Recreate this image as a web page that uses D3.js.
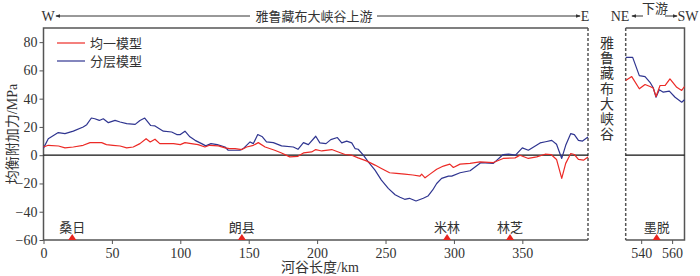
<!DOCTYPE html>
<html>
<head>
<meta charset="utf-8">
<script src="https://cdn.jsdelivr.net/npm/d3@7"></script>
<style>
  body { margin: 0; background: #fff; }
  svg text { font-family: "Liberation Serif", "Noto Sans CJK SC", serif; fill: #333; }
</style>
</head>
<body>
<svg id="chart" width="700" height="276"></svg>
<script>
// upstream section (0-398 km)
const redKm = [0, 3.5, 11, 15.7, 21.8, 29, 34, 42.5, 46, 50.8, 56, 60.8, 65.6, 70.5, 75, 78, 81.5, 85, 90, 95,
  100, 103.4, 108, 113, 118, 121.4, 127.8, 132.7, 136, 140, 145, 148.5, 153.4, 157, 162, 169, 174, 180, 186, 190,
  196, 199, 203.4, 210.7, 215.5, 220.4, 225.3, 230, 236, 242.3, 247, 253, 258, 264, 270, 275.2, 276.4, 278.9, 282.5, 287.4,
  292.3, 297, 299.6, 304.5, 311.8, 319, 328.8, 336, 344.7, 348.3, 354.4, 360.5, 366.6, 371, 375, 378.8, 381.7, 385.4, 388, 391,
  394.7, 398];
const redVal = [5.8, 7, 6.5, 5.2, 5.8, 7, 8.9, 8.9, 7.5, 7, 6.5, 5.2, 5.8, 8.2, 11.7, 9.4, 11.3, 8.2, 8.2, 8.2,
  7.5, 8.9, 8.2, 7.5, 5.8, 7, 6.6, 5.2, 4.7, 4.7, 4, 5.8, 7, 8.9, 5.8, 3.5, 1.6, -1.2, -0.8, 1.6,
  2.3, 4, 3, 4, 2.3, 0.5, 0, -1.9, -4, -7, -9.4, -12.4, -12.9, -13.4, -14, -14.8, -13.4, -16, -13.4, -10,
  -7.7, -6.3, -8.7, -6.3, -5.8, -4.7, -5.2, -2.3, -1.9, 0, -2.3, -1.2, 0.7, 0.5, -3, -16.4, -5.8, 1.2, 0.5, -3,
  -3.5, -1.2];

const blueKm = [0, 3.5, 10.8, 15.7, 21.8, 29, 31.6, 35, 37.5, 40.8, 43.7, 47.4, 52.3, 56, 60.8, 67, 70.5, 74, 78.4, 81.5,
  87.6, 93.7, 97.4, 100, 103.4, 107, 110.8, 115.6, 118.6, 122.4, 127, 132.7, 135, 143.6, 146, 151, 153.4, 156.6, 160, 163,
  168, 174, 182.6, 186, 190, 193.6, 199, 202, 206.5, 210, 214.8, 218, 221.6, 225.3, 227.7, 230, 233.8, 237.4, 242.3, 247,
  252, 257, 260.6, 264, 267.4, 272.3, 277.6, 281, 284.5, 287.4, 291, 296, 298.4, 304.5, 311.8, 319.8, 328.8, 336, 340, 345,
  350, 354.4, 363, 367, 371.5, 375, 378.8, 381.7, 385.4, 388, 391, 394, 398];
const blueVal = [5, 11.7, 16, 15.3, 17, 20, 21.6, 26.3, 25.8, 24.6, 25.8, 23, 24.6, 23.5, 22.3, 21.8, 24.6, 26.3, 21, 20.7,
  17, 16.4, 14.6, 14.6, 17, 13, 10.5, 8.2, 6.6, 8.2, 7.5, 5.8, 3.5, 3.5, 4.7, 9.4, 8.2, 14.6, 13, 9.4,
  8.9, 6.6, 5.8, 4.2, 8.9, 7.5, 13.4, 8.7, 8.2, 11, 12.5, 8.7, 10, 8.7, 4.7, 4.2, 0, -4.7, -10.6, -17.6,
  -23.5, -28, -29.8, -31.2, -30.5, -32.4, -30.5, -28.9, -24.6, -20, -16.4, -14.8, -14.8, -12.4, -11, -5.2, -5.8, 0.5, 0.8, 0,
  5.2, 3.5, 8.7, 9.5, 10.5, 7.7, -2.3, 7, 15.3, 14.6, 10.5, 10, 12.9];

// downstream section (530-568 km)
const redKmDown = [530, 533.9, 538.8, 542.5, 545.7, 547.8, 549.6, 552.2, 555.4, 558.6, 563, 566.2, 568];
const redValDown = [52.8, 55.6, 47, 50, 48.6, 47.5, 41.5, 49.3, 49.3, 54, 48, 45.8, 48.6];
const blueKmDown = [530, 534.5, 538.8, 542.5, 545.7, 547.8, 549.6, 551.7, 554.3, 558.2, 561.9, 566.2, 568];
const blueValDown = [69.2, 69.2, 56.3, 55.6, 51.6, 47.7, 41, 46.3, 44.6, 45.3, 41, 37.5, 39.2];

const towns = ["桑日", "朗县", "米林", "林芝"];
const townKm = [21, 145, 295, 341];
const townsDown = ["墨脱"];
const townKmDown = [550];

const xTicks = [0, 50, 100, 150, 200, 250, 300, 350];
const xTicksDown = [540, 560];
const yTicks = [-60, -40, -20, 0, 20, 40, 60, 80];
const seriesNames = ["均一模型", "分层模型"];

const RED = "#ec2a26", BLUE = "#2f3590", FRAME = "#555";
const plotTop = 28, plotBottom = 240;

const svg = d3.select("#chart");

const x = d3.scaleLinear().domain([0, 398]).range([43.5, 588]);
const x2 = d3.scaleLinear().domain([530, 568]).range([625.7, 684.5]);
const y = d3.scaleLinear().domain([-60, 90]).range([plotBottom, plotTop]);

// axes
const xAxis = svg.append("g").attr("transform", `translate(0,${plotBottom})`)
  .call(d3.axisBottom(x).tickValues(xTicks).tickSize(4).tickSizeOuter(0));
const xAxis2 = svg.append("g").attr("transform", `translate(0,${plotBottom})`)
  .call(d3.axisBottom(x2).tickValues(xTicksDown).tickSize(4).tickSizeOuter(0));
const yAxis = svg.append("g").attr("transform", `translate(${x.range()[0]},0)`)
  .call(d3.axisLeft(y).tickValues(yTicks).tickSize(4).tickSizeOuter(0));
[xAxis, xAxis2, yAxis].forEach(g => {
  g.select(".domain").remove();
  g.selectAll(".tick line").attr("stroke", FRAME);
  g.selectAll(".tick text").attr("font-size", 14).attr("fill", "#333");
});
xAxis.selectAll(".tick text").attr("dy", "0.8em");
xAxis2.selectAll(".tick text").attr("dy", "0.8em");
yAxis.selectAll(".tick text").attr("x", -6);

// frames
const frame = svg.append("g").attr("fill", "none").attr("stroke-width", 1.5);
frame.append("path").attr("stroke", FRAME)
  .attr("d", `M${x(398)},${plotTop}H${x(0)}V${plotBottom}H${x(398)}`);
frame.append("line").attr("stroke", FRAME).attr("stroke-dasharray", "3,2")
  .attr("x1", x(398)).attr("x2", x(398)).attr("y1", plotTop).attr("y2", plotBottom);
frame.append("path").attr("stroke", FRAME)
  .attr("d", `M${x2(530)},${plotTop}H${x2(568)}V${plotBottom}H${x2(530)}`);
frame.append("line").attr("stroke", FRAME).attr("stroke-dasharray", "3,2")
  .attr("x1", x2(530)).attr("x2", x2(530)).attr("y1", plotTop).attr("y2", plotBottom);

// zero lines
svg.append("line").attr("x1", x(0)).attr("x2", x(398)).attr("y1", y(0)).attr("y2", y(0))
  .attr("stroke", "#111").attr("stroke-width", 1.2);
svg.append("line").attr("x1", x2(530)).attr("x2", x2(568)).attr("y1", y(0)).attr("y2", y(0))
  .attr("stroke", "#111").attr("stroke-width", 1.2);

// curves
const drawLine = (xs, ks, vs, color) => {
  const pts = ks.map((k, i) => [xs(k), y(vs[i])]);
  svg.append("path").datum(pts)
    .attr("d", d3.line())
    .attr("fill", "none").attr("stroke", color).attr("stroke-width", 1.2)
    .attr("stroke-linejoin", "round");
};
drawLine(x, blueKm, blueVal, BLUE);
drawLine(x, redKm, redVal, RED);
drawLine(x2, blueKmDown, blueValDown, BLUE);
drawLine(x2, redKmDown, redValDown, RED);

// town markers
const drawTowns = (xs, names, kms) => {
  names.forEach((n, i) => {
    const cx = xs(kms[i]);
    svg.append("path").attr("d", `M${cx - 4},${plotBottom}L${cx},${plotBottom - 6}L${cx + 4},${plotBottom}Z`)
      .attr("fill", "#e8251f");
    svg.append("text").attr("x", cx).attr("y", plotBottom - 8).attr("text-anchor", "middle")
      .attr("font-size", 13).text(n);
  });
};
drawTowns(x, towns, townKm);
drawTowns(x2, townsDown, townKmDown);

// legend
[RED, BLUE].forEach((c, i) => {
  const ly = 43 + i * 18;
  svg.append("line").attr("x1", 57).attr("x2", 85).attr("y1", ly).attr("y2", ly)
    .attr("stroke", c).attr("stroke-width", 1.2);
  svg.append("text").attr("x", 90).attr("y", ly + 5).attr("font-size", 13).text(seriesNames[i]);
});

// axis titles
svg.append("text").attr("x", 320).attr("y", 272).attr("text-anchor", "middle")
  .attr("font-size", 14).text("河谷长度/km");
svg.append("text").attr("transform", "translate(17,134) rotate(-90)").attr("text-anchor", "middle")
  .attr("font-size", 14).text("均衡附加力/MPa");

// vertical canyon label
"雅鲁藏布大峡谷".split("").forEach((ch, i) => {
  svg.append("text").attr("x", 607).attr("y", 48 + i * 15.2).attr("text-anchor", "middle")
    .attr("font-size", 14).text(ch);
});

// header arrows
const defs = svg.append("defs");
defs.append("marker").attr("id", "ah").attr("viewBox", "0 0 6 6").attr("refX", 5).attr("refY", 3)
  .attr("markerWidth", 5).attr("markerHeight", 5).attr("orient", "auto-start-reverse")
  .append("path").attr("d", "M0,0.8L6,3L0,5.2Z").attr("fill", "#333");
const arrow = (x1, x2, yy, atStart) => {
  const l = svg.append("line").attr("x1", x1).attr("x2", x2).attr("y1", yy).attr("y2", yy)
    .attr("stroke", "#333").attr("stroke-width", 1);
  if (atStart) l.attr("marker-start", "url(#ah)"); else l.attr("marker-end", "url(#ah)");
};
svg.append("text").attr("x", 48).attr("y", 21).attr("text-anchor", "middle").attr("font-size", 14).text("W");
arrow(56, 250, 16, true);
svg.append("text").attr("x", 314).attr("y", 21).attr("text-anchor", "middle").attr("font-size", 13).text("雅鲁藏布大峡谷上游");
arrow(377, 580, 16, false);
svg.append("text").attr("x", 585).attr("y", 21).attr("text-anchor", "middle").attr("font-size", 14).text("E");

svg.append("text").attr("x", 620).attr("y", 21).attr("text-anchor", "middle").attr("font-size", 14).text("NE");
arrow(632, 643, 16, true);
svg.append("text").attr("x", 655).attr("y", 13).attr("text-anchor", "middle").attr("font-size", 13).text("下游");
arrow(665, 677, 16, false);
svg.append("text").attr("x", 688).attr("y", 21).attr("text-anchor", "middle").attr("font-size", 14).text("SW");
</script>
</body>
</html>
